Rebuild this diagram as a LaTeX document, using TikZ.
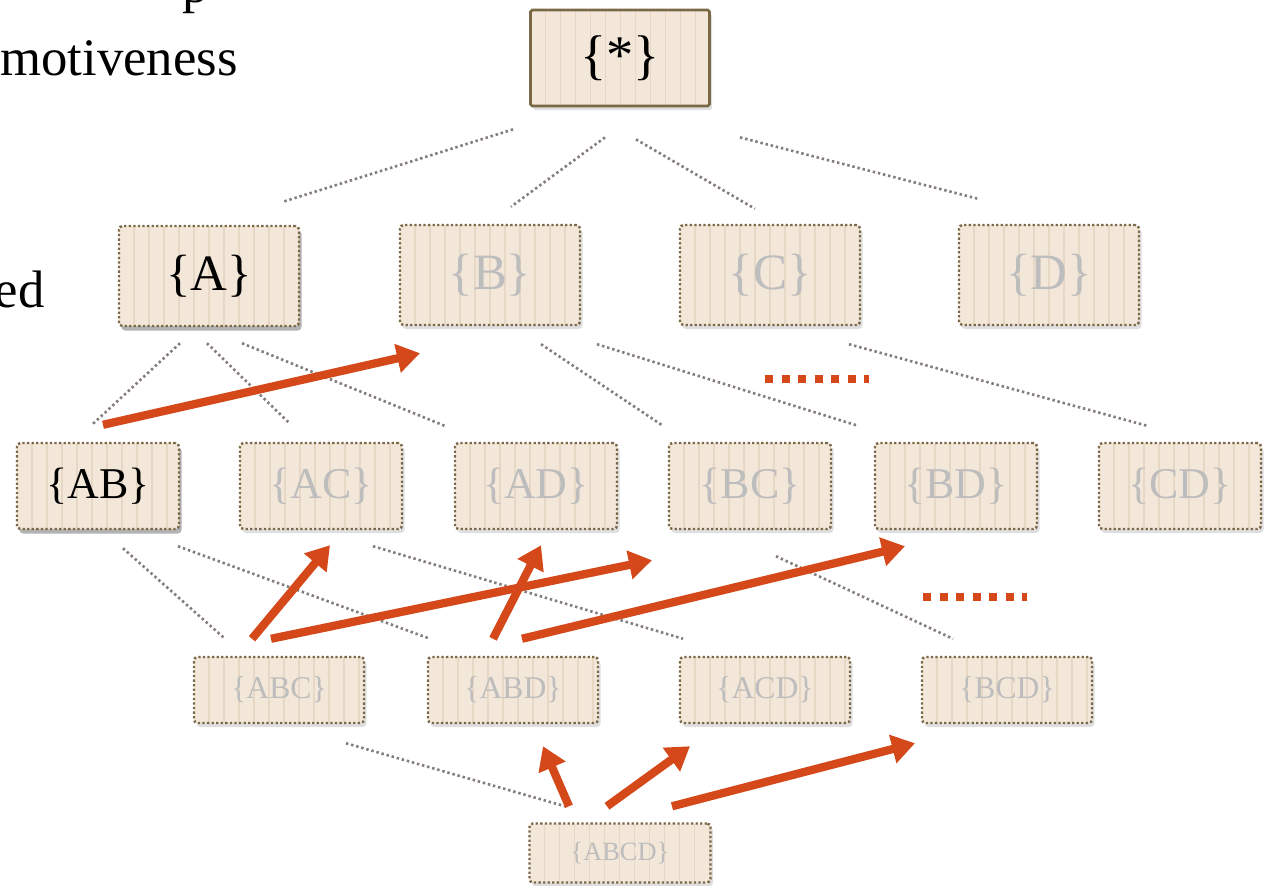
\documentclass[tikz,border=0pt]{standalone}
\usepackage{fontspec}
\setmainfont{Liberation Serif}
\usetikzlibrary{arrows.meta,positioning,calc,shadows}

\definecolor{paper}{HTML}{F3E7D9}
\definecolor{stripe}{HTML}{E6D8C4}
\definecolor{rim}{HTML}{7B6847}
\definecolor{faded}{HTML}{BDBDBD}
\definecolor{linkgray}{HTML}{857D7D}
\definecolor{rust}{HTML}{D4481A}

\begin{document}
\begin{tikzpicture}[
  cell/.style={draw=rim, line width=1.4pt, dash pattern=on 1.3pt off 1.3pt, rounded corners=2pt, fill=paper, inner sep=0pt,
    path picture={\foreach \k in {1,...,25}
      \draw[stripe, solid, line width=1.1pt] ([xshift=\k*3mm]path picture bounding box.south west) -- ([xshift=\k*3mm]path picture bounding box.north west);}},
  soft/.style={drop shadow={shadow xshift=0.05cm, shadow yshift=-0.08cm, opacity=0.25}},
  hard/.style={drop shadow={shadow xshift=0.05cm, shadow yshift=-0.09cm, opacity=0.6}},
  top/.style={cell, solid, line width=1.6pt, rounded corners=1pt, minimum width=3.58cm, minimum height=1.92cm, font=\fontsize{31}{33}\selectfont},
  row1/.style={cell, minimum width=3.6cm, minimum height=2.0cm, font=\fontsize{29}{31}\selectfont},
  row2/.style={cell, minimum width=3.24cm, minimum height=1.72cm, font=\fontsize{25}{28}\selectfont},
  row3/.style={cell, minimum width=3.4cm, minimum height=1.32cm, font=\fontsize{18}{20}\selectfont},
  row4/.style={cell, minimum width=3.62cm, minimum height=1.18cm, font=\fontsize{15}{17}\selectfont},
  off/.style={text=faded, soft},
  lit/.style={text=black, hard},
  tie/.style={draw=linkgray, line width=1.5pt, dash pattern=on 1.4pt off 1.6pt},
  lift/.style={draw=rust, line width=4.7pt, -{Triangle[width=0.56cm,length=0.46cm]}},
  more/.style={draw=rust, line width=0.16cm, dash pattern=on 0.16cm off 0.17cm},
  slide/.style={inner sep=0pt, font=\fontsize{30}{33}\selectfont}
]
\useasboundingbox (0,0) rectangle (25.3,-17.72);

% cut-off slide text
\node[slide, anchor=base west] (p) at (3.64,-0.04) {p};
\node[slide, anchor=base west] (motive) at (0,-1.50) {motiveness};
\node[slide, anchor=base east] (ed) at (0.9,-6.14) {ed};

% lattice
\node[top, soft] (star) at (12.40,-1.16) {\{*\}};

\node[row1, lit] (a) at (4.18,-5.52) {\{A\}};
\node[row1, off] (b) at (9.80,-5.50) {\{B\}};
\node[row1, off] (c) at (15.40,-5.50) {\{C\}};
\node[row1, off] (d) at (20.98,-5.50) {\{D\}};

\node[row2, lit] (ab) at (1.96,-9.72) {\{AB\}};
\node[row2, off] (ac) at (6.42,-9.72) {\{AC\}};
\node[row2, off] (ad) at (10.72,-9.72) {\{AD\}};
\node[row2, off] (bc) at (15.00,-9.72) {\{BC\}};
\node[row2, off] (bd) at (19.12,-9.72) {\{BD\}};
\node[row2, off] (cd) at (23.60,-9.72) {\{CD\}};

\node[row3, off] (abc) at (5.58,-13.80) {\{ABC\}};
\node[row3, off] (abd) at (10.26,-13.80) {\{ABD\}};
\node[row3, off] (acd) at (15.30,-13.80) {\{ACD\}};
\node[row3, off] (bcd) at (20.14,-13.80) {\{BCD\}};

\node[row4, off] (abcd) at (12.40,-17.06) {\{ABCD\}};

% dotted links
\draw[tie] ([shift={(-2.14,-0.44)}]star.south) -- ([shift={(1.48,0.46)}]a.north);
\draw[tie] ([shift={(-0.30,-0.60)}]star.south) -- ([shift={(0.42,0.34)}]b.north);
\draw[tie] ([shift={(0.32,-0.64)}]star.south) -- ([shift={(-0.30,0.30)}]c.north);
\draw[tie] ([shift={(2.40,-0.60)}]star.south) -- ([shift={(-1.42,0.50)}]d.north);

\draw[tie] ([shift={(-0.58,-0.32)}]a.south) -- ([shift={(-0.10,0.36)}]ab.north);
\draw[tie] ([shift={(-0.04,-0.32)}]a.south) -- ([shift={(-0.62,0.36)}]ac.north);
\draw[tie] ([shift={(0.66,-0.32)}]a.south) -- ([shift={(-1.78,0.30)}]ad.north);
\draw[tie] ([shift={(1.02,-0.36)}]b.south) -- ([shift={(-1.74,0.32)}]bc.north);
\draw[tie] ([shift={(2.14,-0.36)}]b.south) -- ([shift={(-1.96,0.32)}]bd.north);
\draw[tie] ([shift={(1.58,-0.36)}]c.south) -- ([shift={(-0.66,0.32)}]cd.north);

\draw[tie] ([shift={(0.50,-0.36)}]ab.south) -- ([shift={(-1.08,0.34)}]abc.north);
\draw[tie] ([shift={(1.60,-0.32)}]ab.south) -- ([shift={(-1.66,0.34)}]abd.north);
\draw[tie] ([shift={(1.04,-0.32)}]ac.south) -- ([shift={(-1.64,0.34)}]acd.north);
\draw[tie] ([shift={(0.52,-0.52)}]bc.south) -- ([shift={(-1.08,0.34)}]bcd.north);

\draw[tie] ([shift={(1.34,-0.38)}]abc.south) -- ([shift={(-1.10,0.32)}]abcd.north);

% ellipses
\draw[more] (15.30,-7.58) -- ++(2.08,0);
\draw[more] (18.46,-11.94) -- ++(2.08,0);

% red arrows
\draw[lift] ([shift={(0.10,0.34)}]ab.north) -- ([shift={(-1.40,-0.54)}]b.south);
\draw[lift] ([shift={(-0.54,0.34)}]abc.north) -- ([shift={(0.18,-0.30)}]ac.south);
\draw[lift] ([shift={(-0.16,0.34)}]abc.north) -- ([shift={(-1.96,-0.60)}]bc.south);
\draw[lift] ([shift={(-0.40,0.34)}]abd.north) -- ([shift={(0.10,-0.30)}]ad.south);
\draw[lift] ([shift={(0.18,0.34)}]abd.north) -- ([shift={(-1.02,-0.32)}]bd.south);
\draw[lift] ([shift={(-1.02,0.32)}]abcd.north) -- ([shift={(0.60,-0.44)}]abd.south);
\draw[lift] ([shift={(-0.26,0.32)}]abcd.north) -- ([shift={(-1.50,-0.44)}]acd.south);
\draw[lift] ([shift={(1.04,0.32)}]abcd.north) -- ([shift={(-1.84,-0.38)}]bcd.south);
\end{tikzpicture}
\end{document}
